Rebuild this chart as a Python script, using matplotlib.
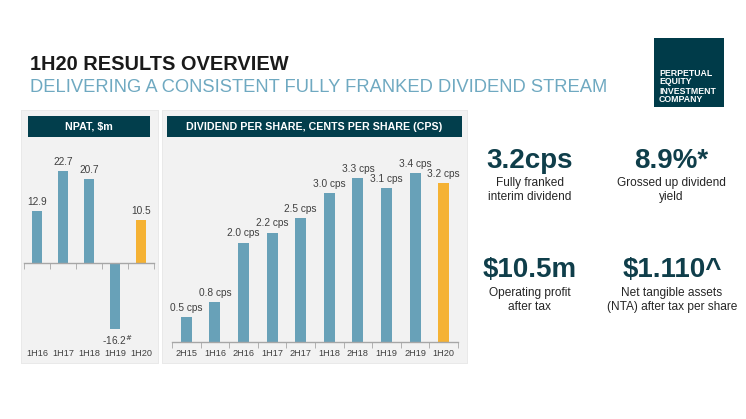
import matplotlib
matplotlib.use("Agg")
import matplotlib.pyplot as plt
from matplotlib.patches import Rectangle

plt.rcParams['font.family'] = ['Liberation Sans', 'DejaVu Sans']

# ---- data ----
npat_labels = ['1H16', '1H17', '1H18', '1H19', '1H20']
npat_values = [12.9, 22.7, 20.7, -16.2, 10.5]
npat_texts = ['12.9', '22.7', '20.7', r'-16.2$^{\#}$', '10.5']

dps_labels = ['2H15', '1H16', '2H16', '1H17', '2H17', '1H18', '2H18', '1H19', '2H19', '1H20']
dps_values = [0.5, 0.8, 2.0, 2.2, 2.5, 3.0, 3.3, 3.1, 3.4, 3.2]

kpi_values = ['3.2cps', '8.9%*', '$10.5m', '$1.110^']
kpi_desc = ['Fully franked\ninterim dividend', 'Grossed up dividend\nyield',
            'Operating profit\nafter tax', 'Net tangible assets\n(NTA) after tax per share']

title = '1H20 RESULTS OVERVIEW'
subtitle = 'DELIVERING A CONSISTENT FULLY FRANKED DIVIDEND STREAM'
npat_header = 'NPAT, $m'
dps_header = 'DIVIDEND PER SHARE, CENTS PER SHARE (CPS)'
logo_text = 'PERPETUAL\nEQUITY\nINVESTMENT\nCOMPANY'

# ---- style ----
W, H = 746, 419
BLUE = '#68A1B8'
ORANGE = '#F5B234'
TEAL = '#023E4C'
PANEL = '#F2F2F2'
LABEL = '#404040'
AXIS = '#A6A6A6'

fig = plt.figure(figsize=(W / 100, H / 100), dpi=100)
fig.patch.set_facecolor('white')


def fx(x):
    return x / W


def fy(y):
    return 1 - y / H


def frect(x0, y0, x1, y1, color, z=-2, **kw):
    fig.patches.append(Rectangle((fx(x0), fy(y1)), fx(x1) - fx(x0), fy(y0) - fy(y1),
                                 transform=fig.transFigure, facecolor=color,
                                 edgecolor='none', zorder=z, **kw))


def axrect(x0, y0, x1, y1):
    return [fx(x0), fy(y1), fx(x1) - fx(x0), fy(y0) - fy(y1)]


# titles
fig.text(fx(30), fy(70), title, fontsize=14.4, fontweight='bold', color='#1A1A1A', va='baseline')
fig.text(fx(30), fy(92), subtitle, fontsize=13.2, color='#6FA9C1', va='baseline')

# logo
frect(654, 38, 724, 107, '#003B49')
fig.text(fx(659), fy(86.5), logo_text, fontsize=6.3, fontweight='bold', color='white',
         va='center', ha='left', linespacing=1.0)

# panels
frect(21, 110, 159, 364, '#E9E9E9', z=-3)
frect(162, 110, 468, 364, '#E9E9E9', z=-3)
frect(22, 111, 158, 363, PANEL)
frect(163, 111, 467, 363, PANEL)
frect(28, 116, 150, 137, TEAL)
frect(167, 116, 462, 137, TEAL)
fig.text(fx(89), fy(126.5), npat_header, fontsize=7.7, fontweight='bold', color='white',
         ha='center', va='center')
fig.text(fx(314.5), fy(126.5), dps_header, fontsize=7.7, fontweight='bold', color='white',
         ha='center', va='center')

# ---- NPAT chart ----
ax1 = fig.add_axes(axrect(24, 150, 154, 343))
ax1.set_facecolor('none')
ax1.set_zorder(1)
n1 = len(npat_values)
x1 = list(range(n1))
cols1 = [BLUE] * (n1 - 1) + [ORANGE]
ax1.bar(x1, npat_values, width=0.38, color=cols1, zorder=2)
ax1.set_xlim(-0.5, n1 - 0.5)
ax1.set_ylim(-(343 - 263) / 4.05, (263 - 150) / 4.05)
for s in ['top', 'right', 'left']:
    ax1.spines[s].set_visible(False)
ax1.spines['bottom'].set_position(('data', 0))
ax1.spines['bottom'].set_color(AXIS)
ax1.spines['bottom'].set_linewidth(1)
ax1.set_xticks([])
ax1.set_xticks([i - 0.5 for i in range(n1 + 1)], minor=True)
ax1.tick_params(axis='x', which='minor', length=4, color=AXIS, direction='out')
ax1.set_yticks([])
for xi, v, t in zip(x1, npat_values, npat_texts):
    if v >= 0:
        ax1.annotate(t, (xi, v), xytext=(0, 3), textcoords='offset points', ha='center',
                     va='bottom', fontsize=7.3, color=LABEL)
    else:
        ax1.annotate(t, (xi, v), xytext=(2, -3), textcoords='offset points', ha='center',
                     va='top', fontsize=7.3, color=LABEL)
for xi, lab in zip(x1, npat_labels):
    ax1.text(xi, -10 / 193, lab, transform=ax1.get_xaxis_transform(), ha='center',
             va='center', fontsize=6.6, color=LABEL)

# ---- DPS chart ----
ax2 = fig.add_axes(axrect(172, 150, 458, 342))
ax2.set_facecolor('none')
ax2.set_zorder(1)
n2 = len(dps_values)
x2 = list(range(n2))
cols2 = [BLUE] * (n2 - 1) + [ORANGE]
ax2.bar(x2, dps_values, width=0.385, color=cols2, zorder=2)
ax2.set_xlim(-0.5, n2 - 0.5)
ax2.set_ylim(0, (342 - 150) / 49.7)
for s in ['top', 'right', 'left']:
    ax2.spines[s].set_visible(False)
ax2.spines['bottom'].set_color(AXIS)
ax2.spines['bottom'].set_linewidth(1)
ax2.set_xticks(x2)
ax2.set_xticklabels(dps_labels, fontsize=6.6, color=LABEL)
ax2.tick_params(axis='x', which='major', length=0, pad=5)
ax2.set_xticks([i - 0.5 for i in range(n2 + 1)], minor=True)
ax2.tick_params(axis='x', which='minor', length=4, color=AXIS, direction='out')
ax2.set_yticks([])
for xi, v in zip(x2, dps_values):
    ax2.annotate(f'{v:.1f} cps', (xi, v), xytext=(0, 3), textcoords='offset points',
                 ha='center', va='bottom', fontsize=7.3, color=LABEL)

# ---- KPIs ----
kpi_pos = [(530, 168, 190), (671, 168, 190), (530, 277, 300), (672, 277, 300)]
for (cx, by, dy), val, desc in zip(kpi_pos, kpi_values, kpi_desc):
    fig.text(fx(cx), fy(by), val, fontsize=20, fontweight='bold', color='#0F3E4A',
             ha='center', va='baseline')
    fig.text(fx(cx), fy(dy), desc, fontsize=8.6, color='#262626', ha='center',
             va='center', linespacing=1.15)

fig.savefig('out.png', dpi=100)
